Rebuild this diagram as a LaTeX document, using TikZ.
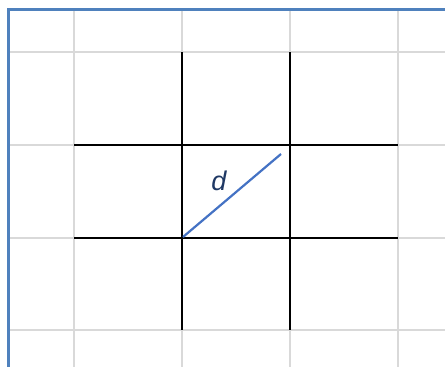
\documentclass[tikz,border=0pt]{standalone}
\usepackage{fontspec}
\setsansfont{Liberation Sans}
\begin{document}
\begin{tikzpicture}[x=1pt,y=-1pt,
  gridline/.style={draw={rgb,255:red,217;green,217;blue,217},line width=2.6pt},
  boldline/.style={draw=black,line width=2.1pt},
  frameline/.style={draw={rgb,255:red,79;green,129;blue,189},line width=3pt},
  diagline/.style={draw={rgb,255:red,68;green,114;blue,196},line width=2.2pt}]
\useasboundingbox (0,0) rectangle (445,367);
\fill[white] (0,0) rectangle (445,367);
% light grid
\foreach \x in {74,182,290,398} \draw[gridline] (\x,9) -- (\x,367);
\foreach \y in {52,145,238,330} \draw[gridline] (8,\y) -- (445,\y);
% frame
\draw[frameline] (8,367) -- (8,9) -- (445,9);
% bold lines
\foreach \x in {182,290} \draw[boldline] (\x,52) -- (\x,330);
\foreach \y in {145,238} \draw[boldline] (74,\y) -- (398,\y);
% diagonal
\coordinate (p) at (183,237);
\coordinate (q) at (281,154);
\draw[diagline] (p) -- (q);
\node[text={rgb,255:red,31;green,56;blue,100},font=\sffamily\itshape\fontsize{27}{27}\selectfont] (d) at (219,181) {d};
\end{tikzpicture}
\end{document}
